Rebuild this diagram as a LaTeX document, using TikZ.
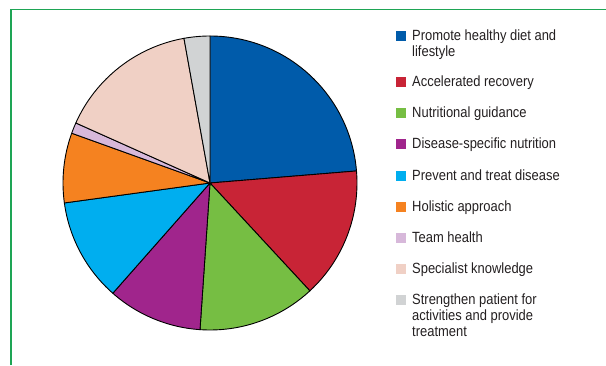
\documentclass[tikz,border=0pt]{standalone}
\usepackage{fontspec}
\newfontfamily\keyfont{Liberation Sans}[FakeStretch=0.875]

% Cores das fatias
\definecolor{cDiet}{RGB}{0,91,170}
\definecolor{cRecov}{RGB}{200,36,54}
\definecolor{cGuide}{RGB}{118,190,67}
\definecolor{cDisease}{RGB}{160,37,140}
\definecolor{cPrevent}{RGB}{0,174,239}
\definecolor{cHolist}{RGB}{245,130,32}
\definecolor{cTeam}{RGB}{215,184,218}
\definecolor{cSpec}{RGB}{240,208,197}
\definecolor{cStrength}{RGB}{209,211,212}
\definecolor{cFrame}{RGB}{30,165,85}
\definecolor{cText}{RGB}{35,31,32}

\tikzset{
  slice/.style={draw=black,line width=0.9pt,line join=round},
  keybox/.style={minimum size=10pt,inner sep=0pt,anchor=center},
  keytext/.style={anchor=base west,inner sep=0pt,align=left,text=cText,
    font=\keyfont\fontsize{14.8}{16}\selectfont},
}

\begin{document}
\begin{tikzpicture}[x=1pt,y=1pt]
\useasboundingbox (0,0) rectangle (606,365);

% Moldura verde
\draw[cFrame,line width=1.4pt] (11,0) -- (11,355.5) -- (606,355.5);

% Centro e raio da pizza
\def\R{147}
\coordinate (O) at (210,182);

% Fatias: cor / angulo inicial / angulo final
\foreach \col/\a/\b in {cDiet/90/4.7, cRecov/4.7/-47.2, cGuide/-47.2/-93.9,
    cDisease/-93.9/-131.4, cPrevent/-131.4/-172.2, cHolist/-172.2/-199.8,
    cTeam/-199.8/-204.1, cSpec/-204.1/-259.8, cStrength/-259.8/-270}
  \filldraw[slice,fill=\col] (O) -- ++(\a:\R) arc[start angle=\a, end angle=\b, radius=\R] -- cycle;

% Legenda (base do texto = ultima linha)
\node[keybox,fill=cDiet] (box1) at (401,328.5) {};
\node[keytext] (key1) at (412,308) {Promote healthy diet and\\lifestyle};

\node[keybox,fill=cRecov] (box2) at (401,282.7) {};
\node[keytext] (key2) at (412,278.2) {Accelerated recovery};

\node[keybox,fill=cGuide] (box3) at (401,251.6) {};
\node[keytext] (key3) at (412,247.1) {Nutritional guidance};

\node[keybox,fill=cDisease] (box4) at (401,220.5) {};
\node[keytext] (key4) at (412,216) {Disease-specific nutrition};

\node[keybox,fill=cPrevent] (box5) at (401,189.4) {};
\node[keytext] (key5) at (412,184.9) {Prevent and treat disease};

\node[keybox,fill=cHolist] (box6) at (401,158.3) {};
\node[keytext] (key6) at (412,153.8) {Holistic approach};

\node[keybox,fill=cTeam] (box7) at (401,127.2) {};
\node[keytext] (key7) at (412,122.7) {Team health};

\node[keybox,fill=cSpec] (box8) at (401,96.1) {};
\node[keytext] (key8) at (412,91.6) {Specialist knowledge};

\node[keybox,fill=cStrength] (box9) at (401,65) {};
\node[keytext] (key9) at (412,28.5) {Strengthen patient for\\activities and provide\\treatment};

\end{tikzpicture}
\end{document}
